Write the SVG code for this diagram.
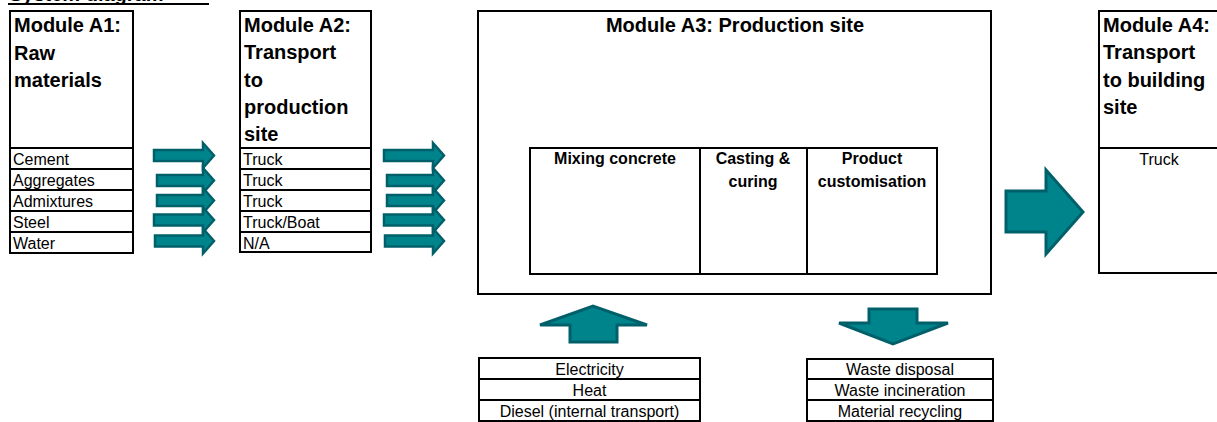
<svg xmlns="http://www.w3.org/2000/svg" width="1217" height="422" viewBox="0 0 1217 422">
<style>
.box{fill:#fff;stroke:#000;stroke-width:2}
.ln{stroke:#000;stroke-width:2}
.h{font-family:"Liberation Sans",Arial,sans-serif;font-weight:bold;font-size:20px;fill:#000}
.s{font-family:"Liberation Sans",Arial,sans-serif;font-weight:bold;font-size:16px;fill:#000}
.t{font-family:"Liberation Sans",Arial,sans-serif;font-size:16px;fill:#000}
.c{text-anchor:middle}
.arr{fill:#00848C;stroke:#00606A;stroke-width:2.5;stroke-linejoin:miter}
.big{fill:#00848C;stroke:#00606A;stroke-width:3}
</style>
<rect width="1217" height="422" fill="#fff"/>
<g id="title">
<text class="h" x="9" y="0.5">System diagram</text>
<line x1="8" y1="4" x2="209" y2="4" stroke="#000" stroke-width="2"/>
</g>
<g id="a1">
<rect class="box" x="10" y="11" width="123" height="242"/>
<text class="h" x="14" y="32">Module A1:</text>
<text class="h" x="14" y="60">Raw</text>
<text class="h" x="14" y="87">materials</text>
<line class="ln" x1="10" y1="148" x2="133" y2="148"/>
<line class="ln" x1="10" y1="169" x2="133" y2="169"/>
<line class="ln" x1="10" y1="190" x2="133" y2="190"/>
<line class="ln" x1="10" y1="211" x2="133" y2="211"/>
<line class="ln" x1="10" y1="232" x2="133" y2="232"/>
<text class="t" x="13" y="165">Cement</text>
<text class="t" x="13" y="186">Aggregates</text>
<text class="t" x="13" y="207">Admixtures</text>
<text class="t" x="13" y="228">Steel</text>
<text class="t" x="13" y="249">Water</text>
</g>
<g id="a2">
<rect class="box" x="240" y="11" width="131" height="241"/>
<text class="h" x="244" y="32">Module A2:</text>
<text class="h" x="244" y="59">Transport</text>
<text class="h" x="244" y="87">to</text>
<text class="h" x="244" y="114">production</text>
<text class="h" x="244" y="141">site</text>
<line class="ln" x1="240" y1="148" x2="371" y2="148"/>
<line class="ln" x1="240" y1="169" x2="371" y2="169"/>
<line class="ln" x1="240" y1="190" x2="371" y2="190"/>
<line class="ln" x1="240" y1="211" x2="371" y2="211"/>
<line class="ln" x1="240" y1="232" x2="371" y2="232"/>
<text class="t" x="243" y="165">Truck</text>
<text class="t" x="243" y="186">Truck</text>
<text class="t" x="243" y="207">Truck</text>
<text class="t" x="243" y="228">Truck/Boat</text>
<text class="t" x="243" y="249">N/A</text>
</g>
<g id="a3">
<rect class="box" x="478" y="11" width="513" height="283"/>
<text class="h c" x="735" y="32">Module A3: Production site</text>
<rect class="box" x="530" y="148" width="407" height="126"/>
<line class="ln" x1="700" y1="148" x2="700" y2="274"/>
<line class="ln" x1="807" y1="148" x2="807" y2="274"/>
<text class="s c" x="615" y="164">Mixing concrete</text>
<text class="s c" x="753" y="164">Casting &amp;</text>
<text class="s c" x="753" y="187">curing</text>
<text class="s c" x="872" y="164">Product</text>
<text class="s c" x="872" y="187">customisation</text>
</g>
<g id="a4">
<rect class="box" x="1099" y="11" width="140" height="262"/>
<text class="h" x="1103" y="32">Module A4:</text>
<text class="h" x="1103" y="59">Transport</text>
<text class="h" x="1103" y="87">to building</text>
<text class="h" x="1103" y="114">site</text>
<line class="ln" x1="1099" y1="148" x2="1217" y2="148"/>
<text class="t c" x="1159" y="165">Truck</text>
</g>
<g id="energy">
<rect class="box" x="479" y="358" width="221" height="63"/>
<line class="ln" x1="479" y1="379" x2="700" y2="379"/>
<line class="ln" x1="479" y1="400" x2="700" y2="400"/>
<text class="t c" x="589.5" y="375">Electricity</text>
<text class="t c" x="589.5" y="396">Heat</text>
<text class="t c" x="589.5" y="417">Diesel (internal transport)</text>
</g>
<g id="waste">
<rect class="box" x="807" y="359" width="186" height="62"/>
<line class="ln" x1="807" y1="379" x2="993" y2="379"/>
<line class="ln" x1="807" y1="400" x2="993" y2="400"/>
<text class="t c" x="900" y="375">Waste disposal</text>
<text class="t c" x="900" y="396">Waste incineration</text>
<text class="t c" x="900" y="417">Material recycling</text>
</g>
<g id="connectors">
<polygon class="arr" points="154,150 203,150 203,143 214,155.5 203,168 203,161 154,161"/>
<polygon class="arr" points="157,175 203,175 203,168 214,180.5 203,193 203,186 157,186"/>
<polygon class="arr" points="157,195 203,195 203,188 214,200.5 203,213 203,206 157,206"/>
<polygon class="arr" points="154,214.5 203,214.5 203,207.5 214,220 203,232.5 203,225.5 154,225.5"/>
<polygon class="arr" points="155,235.5 203,235.5 203,228.5 214,241 203,253.5 203,246.5 155,246.5"/>
<polygon class="arr" points="384,150 433,150 433,143 444,155.5 433,168 433,161 384,161"/>
<polygon class="arr" points="387,175 433,175 433,168 444,180.5 433,193 433,186 387,186"/>
<polygon class="arr" points="387,195 433,195 433,188 444,200.5 433,213 433,206 387,206"/>
<polygon class="arr" points="384,214.5 433,214.5 433,207.5 444,220 433,232.5 433,225.5 384,225.5"/>
<polygon class="arr" points="385,235.5 433,235.5 433,228.5 444,241 433,253.5 433,246.5 385,246.5"/>
<polygon class="big" points="1006,191 1046,191 1046,170 1083,212 1046,254 1046,232 1006,232"/>
<polygon class="big" points="570,342 570,325 540,325 593,306 647,325 617,325 617,342"/>
<polygon class="big" points="869,309 917,309 917,323 948,323 893,344 839,323 869,323"/>
</g>
</svg>
